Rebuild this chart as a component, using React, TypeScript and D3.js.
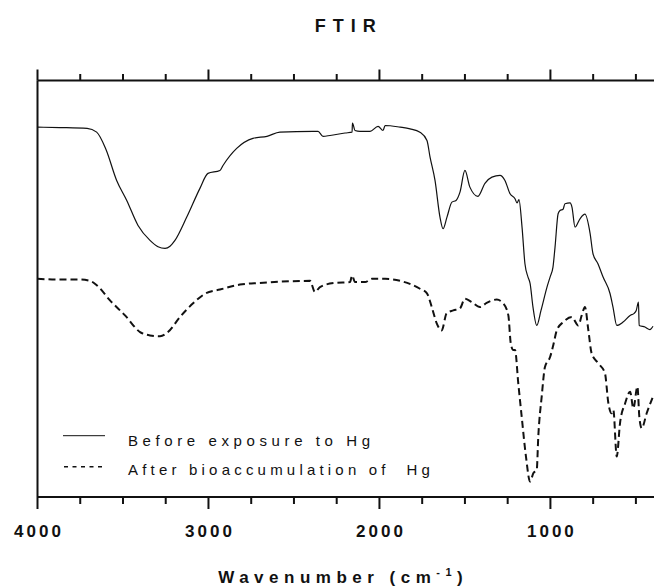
import React from 'react';
import * as d3 from 'd3';

// FTIR spectra (arbitrary transmittance units), wavenumber in cm^-1
const beforeWavenumber = [
  4000, 3868, 3710, 3654, 3600, 3537, 3478, 3412, 3342, 3295, 3254, 3225, 3196, 3127, 3050, 3003, 2933, 2915, 2835, 2740,
  2658, 2582, 2389, 2359, 2330, 2289, 2201, 2160, 2158, 2143, 2114, 2055, 2008, 1979, 1967, 1879, 1821,
  1763, 1722, 1704, 1675, 1646, 1628, 1605, 1576, 1552, 1529, 1500, 1471, 1424, 1383, 1342, 1295, 1266,
  1236, 1207, 1195, 1184, 1166, 1149, 1131, 1119, 1102, 1080, 1055, 1020, 1002, 985, 973, 955, 944, 926,
  915, 885, 874, 856, 827, 798, 768, 751, 722, 692, 651, 634, 612, 575, 534, 510, 498, 485, 481, 447, 418, 400,
];
const beforeSignal = [
  88.8, 88.7, 88.5, 87.6, 83.5, 76.0, 71.2, 65.2, 61.6, 60.1, 59.7, 60.2, 61.6, 67.2, 74.1, 77.7, 78.4, 79.6, 83.7, 86.1,
  86.6, 87.6, 87.8, 87.8, 86.6, 86.8, 87.4, 87.6, 89.8, 88.0, 87.8, 87.8, 89.0, 88.0, 89.2, 88.8, 88.4,
  87.6, 85.6, 81.6, 76.0, 67.2, 64.4, 67.2, 70.8, 71.2, 73.2, 78.4, 74.4, 72.2, 75.3, 76.8, 77.2, 76.0,
  72.8, 71.6, 70.6, 71.4, 64.8, 56.0, 52.8, 51.3, 45.6, 41.2, 44.8, 50.4, 52.8, 55.2, 60.0, 68.0, 68.8, 69.1,
  70.4, 70.6, 69.6, 64.8, 66.8, 67.9, 63.3, 58.4, 56.0, 52.8, 48.8, 45.6, 41.2, 42.0, 43.6, 44.1, 44.8, 46.8, 41.2, 40.8, 40.2, 41.0,
];

const afterWavenumber = [
  4000, 3868, 3751, 3693, 3652, 3576, 3488, 3400, 3342, 3283, 3237, 3167, 3090, 3020, 2933, 2816, 2699,
  2523, 2406, 2377, 2348, 2260, 2172, 2160, 2143, 2084, 2044, 1967, 1879, 1763, 1722, 1694, 1665, 1636,
  1607, 1568, 1529, 1500, 1460, 1412, 1373, 1314, 1276, 1246, 1232, 1217, 1207, 1188, 1168, 1143, 1119,
  1100, 1080, 1071, 1051, 1032, 1002, 983, 963, 925, 875, 837, 817, 798, 778, 759, 720, 681, 661, 642,
  632, 612, 593, 563, 534, 515, 491, 480, 466, 437, 400,
];
const afterSignal = [
  52.4, 52.2, 52.2, 51.9, 50.8, 47.2, 43.6, 39.6, 38.8, 38.6, 39.6, 43.2, 46.5, 48.8, 49.8, 51.0, 51.4,
  51.8, 51.9, 49.2, 50.4, 51.4, 51.6, 53.2, 51.6, 51.6, 52.4, 52.4, 51.9, 50.0, 48.9, 45.6, 41.7, 40.0,
  44.1, 44.8, 45.3, 47.6, 46.8, 45.6, 46.6, 47.4, 46.5, 43.6, 36.9, 35.3, 35.3, 27.3, 19.3, 9.7, 3.7,
  5.7, 6.5, 14.5, 24.1, 31.2, 33.6, 36.5, 40.0, 42.0, 43.2, 41.2, 43.6, 45.6, 40.0, 34.5, 32.1, 29.7, 22.5, 20.1,
  20.9, 9.7, 17.7, 22.5, 25.3, 21.3, 26.5, 19.3, 16.5, 20.1, 24.1,
];

const majorTicks = [4000, 3000, 2000, 1000];
const tickLabels = ['4000', '3000', '2000', '1000'];
const minorTicks = [3750, 3500, 3250, 2750, 2500, 2250, 1750, 1500, 1250, 750, 500];

const seriesNames = ['Before exposure to Hg', 'After bioaccumulation of  Hg'];

const W = 654;
const H = 587;
const left = 37.5;
const right = 653;
const top = 80.5;
const bottom = 497;
const font = "Arial, 'Liberation Sans', Helvetica, sans-serif";

export default function App() {
  const x = d3.scaleLinear().domain([4000, 400]).range([left, right]);
  const y = d3.scaleLinear().domain([0, 100]).range([bottom, top]);

  const line = d3
    .line<[number, number]>()
    .x((d) => x(d[0]))
    .y((d) => y(d[1]))
    .curve(d3.curveMonotoneX);

  const beforePts = beforeWavenumber.map((w, i) => [w, beforeSignal[i]] as [number, number]);
  const afterPts = afterWavenumber.map((w, i) => [w, afterSignal[i]] as [number, number]);

  const tickLS = 3;
  const titleLS = 7;
  const axisLS = 5.5;
  const legendLS = 4.6;

  return (
    <svg
      width={W}
      height={H}
      style={{ position: 'absolute', left: 0, top: 0, background: '#fff' }}
      fontFamily={font}
    >
      <rect x={0} y={0} width={W} height={H} fill="#fff" />

      {/* title */}
      <text
        x={(left + right) / 2 + titleLS / 2}
        y={32}
        textAnchor="middle"
        fontSize={18}
        fontWeight="bold"
        letterSpacing={titleLS}
        fill="#111"
      >
        FTIR
      </text>

      {/* spectra */}
      <path d={line(beforePts) ?? ''} fill="none" stroke="#111" strokeWidth={1.2} strokeLinejoin="round" />
      <path
        d={line(afterPts) ?? ''}
        fill="none"
        stroke="#111"
        strokeWidth={2}
        strokeDasharray="7,4"
      />

      {/* axes frame */}
      <line x1={left} x2={W} y1={top} y2={top} stroke="#111" strokeWidth={2} />
      <line x1={left} x2={W} y1={bottom} y2={bottom} stroke="#111" strokeWidth={2} />
      <line x1={left} x2={left} y1={top} y2={bottom} stroke="#111" strokeWidth={2} />

      {majorTicks.map((t) => (
        <g key={'M' + t}>
          <line x1={x(t)} x2={x(t)} y1={top} y2={top - 11} stroke="#111" strokeWidth={2} />
          <line x1={x(t)} x2={x(t)} y1={bottom} y2={bottom + 12} stroke="#111" strokeWidth={2} />
        </g>
      ))}
      {minorTicks.map((t) => (
        <g key={'m' + t}>
          <line x1={x(t)} x2={x(t)} y1={top} y2={top - 6.5} stroke="#111" strokeWidth={2} />
          <line x1={x(t)} x2={x(t)} y1={bottom} y2={bottom + 7} stroke="#111" strokeWidth={2} />
        </g>
      ))}

      {majorTicks.map((t, i) => (
        <text
          key={'l' + t}
          x={x(t) + tickLS / 2}
          y={537}
          textAnchor="middle"
          fontSize={17}
          fontWeight="bold"
          letterSpacing={tickLS}
          fill="#111"
        >
          {tickLabels[i]}
        </text>
      ))}

      {/* x-axis title */}
      <text
        x={(left + right) / 2 - 2}
        y={583}
        textAnchor="middle"
        fontSize={17}
        fontWeight="bold"
        letterSpacing={axisLS}
        fill="#111"
      >
        Wavenumber (cm
        <tspan fontSize={11} dy={-7}>
          -1
        </tspan>
        <tspan dy={7}>)</tspan>
      </text>

      {/* legend */}
      <line x1={63} x2={105} y1={435.7} y2={435.7} stroke="#111" strokeWidth={1} />
      <text x={128} y={446} fontSize={15} letterSpacing={legendLS} fill="#111" style={{ whiteSpace: 'pre' }}>
        {seriesNames[0]}
      </text>
      <line
        x1={64}
        x2={105}
        y1={466.7}
        y2={466.7}
        stroke="#111"
        strokeWidth={1.6}
        strokeDasharray="4,4.5"
      />
      <text x={128} y={475} fontSize={15} letterSpacing={legendLS - 0.4} fill="#111" style={{ whiteSpace: 'pre' }}>
        {seriesNames[1]}
      </text>
    </svg>
  );
}
